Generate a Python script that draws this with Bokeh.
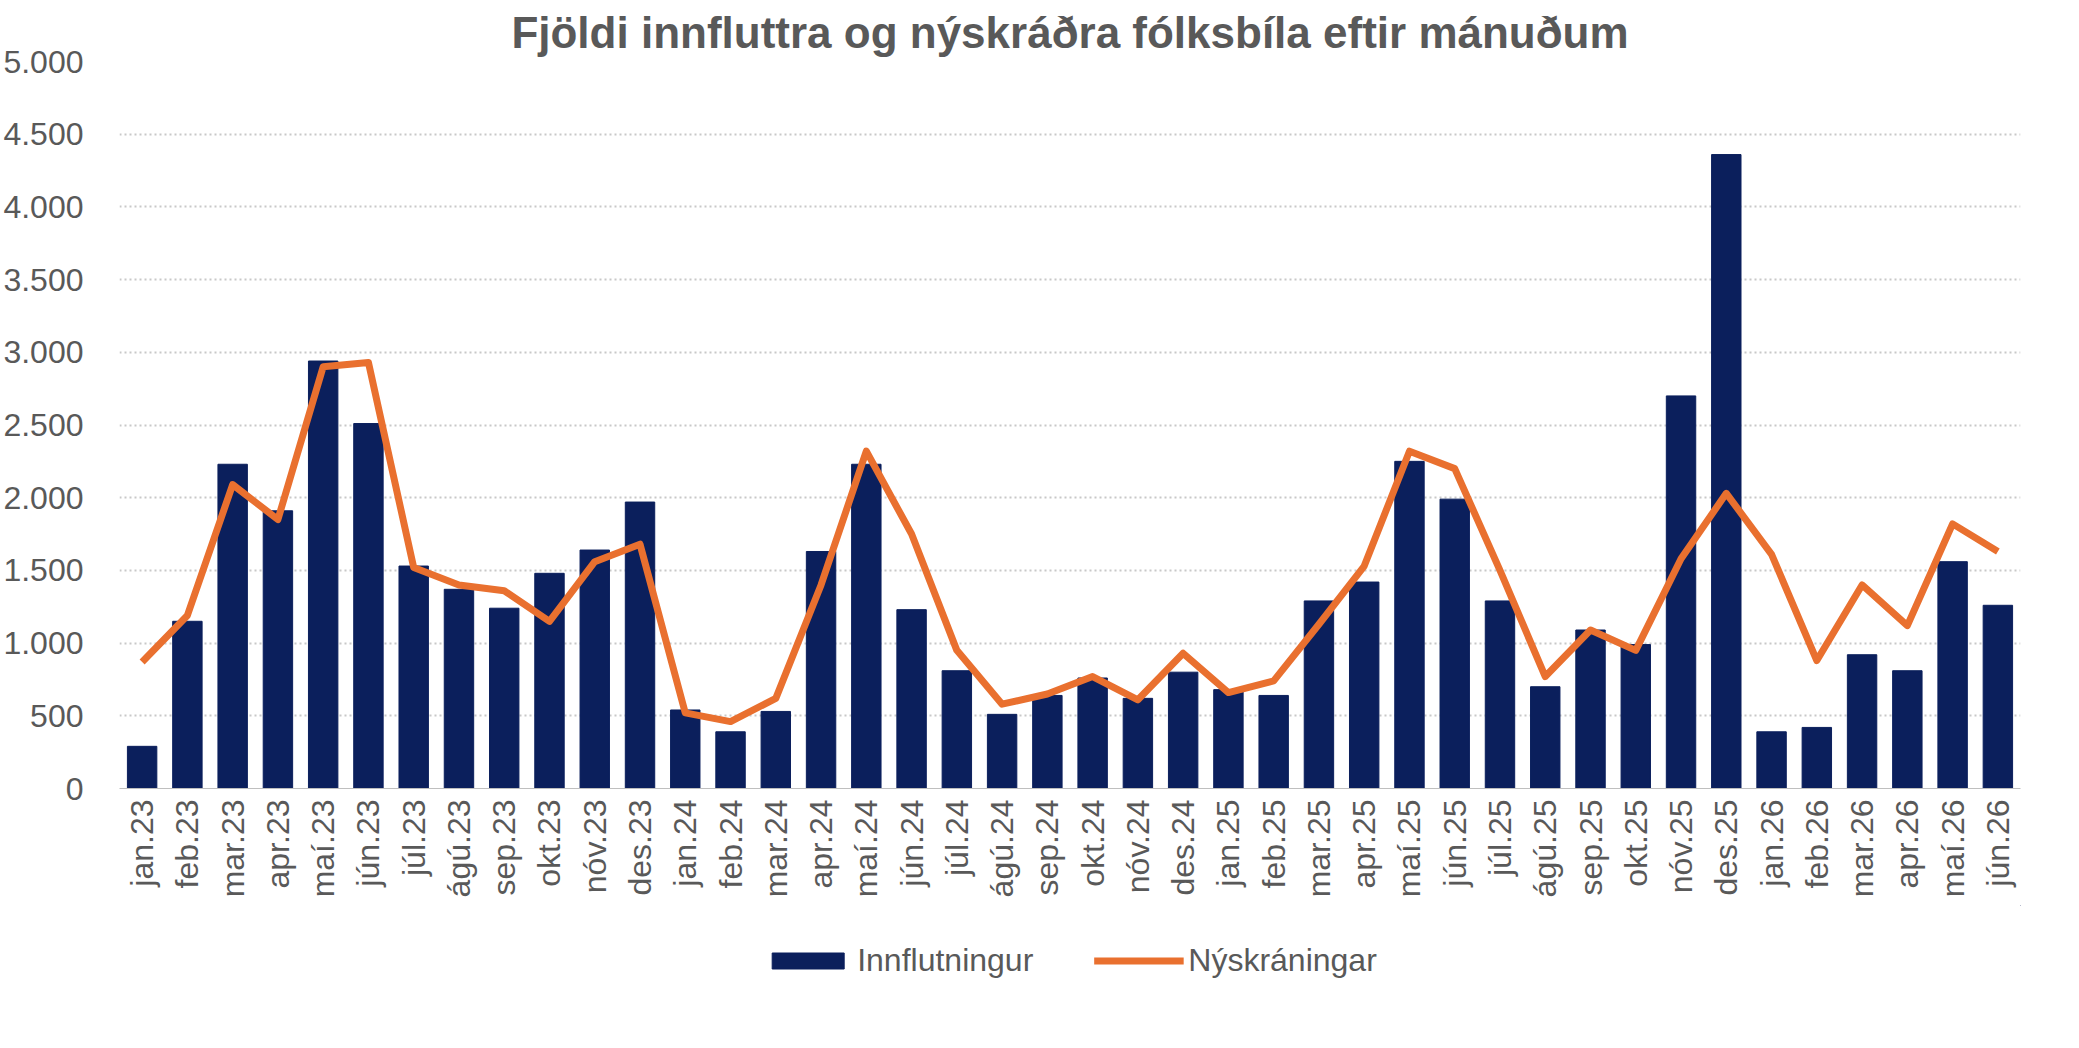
import math
from bokeh.plotting import figure
from bokeh.layouts import column
from bokeh.models import FactorRange, Legend, FixedTicker
from bokeh.embed import file_html
from bokeh.resources import INLINE

months = ["jan","feb","mar","apr","maí","jún","júl","ágú","sep","okt","nóv","des"]
years = ["23","24","25","26"]
cats = [f"{m}.{y}" for y in years for m in months][:42]

innflutningur = [290,1150,2230,1910,2940,2510,1530,1370,1240,1480,1640,1970,
                 540,390,530,1630,2230,1230,810,510,640,760,620,800,
                 680,640,1290,1420,2250,1990,1290,700,1090,990,2700,4360,
                 390,420,920,810,1560,1260]
nyskraningar = [870,1190,2090,1850,2900,2930,1520,1400,1360,1150,1560,1680,
                520,460,620,1400,2320,1750,950,580,650,770,610,930,
                660,740,1130,1530,2320,2200,1500,770,1090,950,1580,2030,
                1610,880,1400,1120,1820,1630]
yticks = list(range(0, 5001, 500))
NAVY = "#0B1F5C"; ORANGE = "#E9702F"; GRAY = "#595959"

p = figure(x_range=FactorRange(*cats), y_range=(0, 5000), width=2060, height=900,
           output_backend="svg", toolbar_location=None,
           title="Fjöldi innfluttra og nýskráðra fólksbíla eftir mánuðum")
p.title.text_font = "Liberation Sans"; p.title.text_font_size = "44px"
p.title.text_color = GRAY; p.title.align = "center"; p.title.text_font_style = "bold"
p.title.offset = 10
p.outline_line_color = None
p.min_border_top = 40

p.vbar(x=cats, top=innflutningur, width=0.65, color=NAVY)
p.line(x=cats, y=nyskraningar, line_color=ORANGE, line_width=7, line_join="round")

p.yaxis.ticker = FixedTicker(ticks=yticks)
p.yaxis.major_label_overrides = {t: f"{t:,}".replace(",", ".") for t in yticks}
for ax in (p.xaxis, p.yaxis):
    ax.major_label_text_font = "Liberation Sans"
    ax.major_label_text_font_size = "32px"
    ax.major_label_text_color = GRAY
    ax.major_tick_line_color = None
    ax.minor_tick_line_color = None
p.yaxis.axis_line_color = None
p.yaxis.major_label_standoff = 30
p.xaxis.axis_line_color = "#BFBFBF"
p.xaxis.major_label_orientation = math.pi / 2
p.xaxis.major_label_overrides = {c: (c if i % 2 == 0 else " ") for i, c in enumerate(cats)}
p.xgrid.grid_line_color = None
p.ygrid.grid_line_color = "#C8C8C8"; p.ygrid.grid_line_dash = "2 3"; p.ygrid.grid_line_width = 2
p.x_range.range_padding = 0.0
p.min_border_left = 40; p.min_border_right = 40

lf = figure(width=2060, height=120, x_range=(0, 1), y_range=(0, 1),
            output_backend="svg", toolbar_location=None)
lf.axis.visible = False; lf.grid.visible = False; lf.outline_line_color = None
b = lf.vbar(x=[5], top=[6], bottom=[5], width=0.1, color=NAVY)
l = lf.line(x=[5, 6], y=[5, 6], line_color=ORANGE, line_width=7)
leg = Legend(items=[("Innflutningur", [b]), ("Nýskráningar", [l])], orientation="horizontal",
             location="center", label_text_font="Liberation Sans", label_text_font_size="32px",
             label_text_color=GRAY, border_line_color=None, glyph_width=90, glyph_height=20,
             spacing=60, background_fill_alpha=0)
lf.add_layout(leg, "center")

open("out.html", "w").write(file_html(column(p, lf, spacing=0), INLINE))
